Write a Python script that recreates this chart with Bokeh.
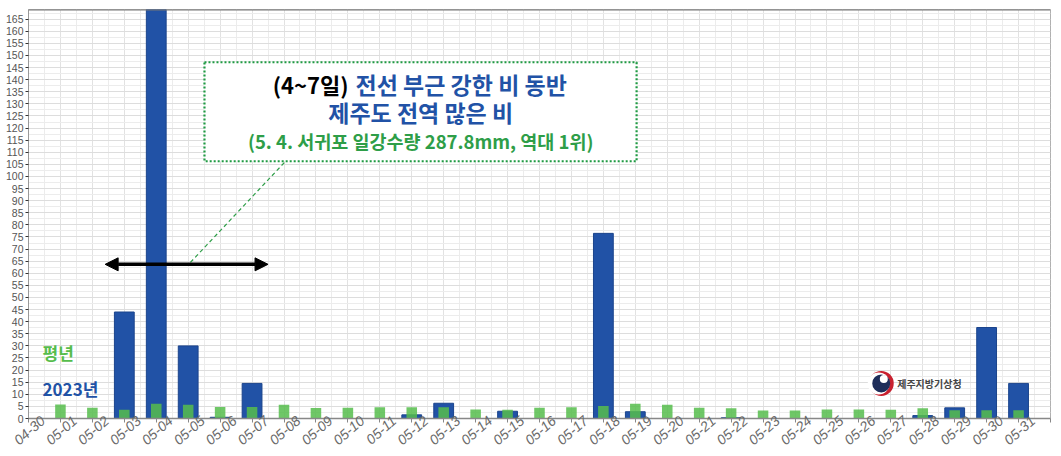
from bokeh.plotting import figure
from bokeh.models import Range1d, FixedTicker, Label, Arrow, NormalHead, BoxAnnotation, Span
from bokeh.embed import file_html
from bokeh.resources import INLINE

# ---------------- data ----------------
dates = ["04-30", "05-01", "05-02", "05-03", "05-04", "05-05", "05-06", "05-07",
         "05-08", "05-09", "05-10", "05-11", "05-12", "05-13", "05-14", "05-15",
         "05-16", "05-17", "05-18", "05-19", "05-20", "05-21", "05-22", "05-23",
         "05-24", "05-25", "05-26", "05-27", "05-28", "05-29", "05-30", "05-31", "06-01"]
bar_dates = dates[1:32]
rain_2023 = [0, 0, 44, 190, 30, 0.5, 14.5, 0, 0, 0, 0, 1.5, 6.3, 0, 3, 0, 0, 76.5,
             2.8, 0, 0, 0.3, 0, 0, 0, 0, 0, 1.2, 4.4, 37.6, 14.5]
rain_normal = [5.8, 4.4, 3.6, 6.1, 5.7, 4.8, 4.8, 5.7, 4.3, 4.4, 4.7, 4.7, 4.7, 3.7,
               3.6, 4.4, 4.7, 5.2, 6.1, 5.7, 4.4, 4.2, 3.3, 3.3, 3.7, 3.7, 3.6, 4.2,
               3.4, 3.4, 3.4]
y_ticks = list(range(0, 170, 5))
series_labels = ["평년", "2023년"]

KR = "Noto Sans CJK KR"
BLUE = "#2152a6"
GREEN = "#56bd4c"
DGREEN = "#2e9e48"

xpos = [dates.index(d) for d in bar_dates]
day_pos = list(range(len(dates)))
x_end = len(dates) - 1

p = figure(width=1061, height=452, output_backend="svg", toolbar_location=None,
           x_range=Range1d(0, x_end), y_range=Range1d(0, 169),
           min_border_left=28, min_border_right=11, min_border_top=9, min_border_bottom=30,
           background_fill_color="white", border_fill_color="white")
p.outline_line_color = "#b0b0b0"

# bars
p.vbar(x=xpos, top=rain_2023, width=0.62, fill_color=BLUE, line_color="#1b448c")
p.vbar(x=xpos, top=rain_normal, width=0.33, fill_color=GREEN, fill_alpha=0.85, line_color=None)

# x axis: tick marks on the days (minor ticks); date labels set so they sit under their day
label_pos = [i + 0.45 for i in day_pos]
p.xaxis.ticker = FixedTicker(ticks=label_pos, minor_ticks=day_pos)
p.xaxis.major_label_overrides = {lp: d for lp, d in zip(label_pos, dates)}
p.xaxis.major_label_orientation = 0.72
p.xaxis.major_label_text_font = "Liberation Sans"
p.xaxis.major_label_text_font_style = "italic"
p.xaxis.major_label_text_font_size = "14px"
p.xaxis.major_label_text_color = "#6a6a6a"
p.xaxis.major_label_standoff = -4
p.xaxis.major_tick_line_color = None
p.xaxis.major_tick_out = 0
p.xaxis.major_tick_in = 0
p.xaxis.minor_tick_out = 4
p.xaxis.minor_tick_in = 0
p.xaxis.minor_tick_line_color = "#888888"
p.xaxis.axis_line_color = "#888888"
p.xaxis.axis_line_width = 1.5

p.xgrid.ticker = FixedTicker(ticks=day_pos, minor_ticks=[i + 0.5 for i in day_pos[:-1]])
p.xgrid.grid_line_color = "#e2e2e2"
p.xgrid.minor_grid_line_color = "#ececec"

yt = FixedTicker(ticks=y_ticks, minor_ticks=[v + 2.5 for v in y_ticks])
p.yaxis.ticker = yt
p.ygrid.ticker = yt
p.yaxis.major_label_text_font = "Liberation Sans"
p.yaxis.major_label_text_font_size = "10.5px"
p.yaxis.major_label_text_color = "#555555"
p.yaxis.major_label_standoff = 1
p.yaxis.major_tick_out = 3
p.yaxis.major_tick_in = 0
p.yaxis.minor_tick_line_color = None
p.yaxis.axis_line_color = "#999999"
p.yaxis.major_tick_line_color = "#333333"
p.ygrid.grid_line_color = "#dddddd"
p.ygrid.minor_grid_line_color = "#ececec"

p.add_layout(Span(location=169, dimension="width", line_color="#777777", line_width=2))

# legend-like labels
p.add_layout(Label(x=0.44, y=27.3, text=series_labels[0], text_font=KR, text_font_style="bold",
                   text_font_size="17px", text_color=GREEN, text_baseline="middle"))
p.add_layout(Label(x=0.44, y=12.4, text=series_labels[1], text_font=KR, text_font_style="bold",
                   text_font_size="17px", text_color=BLUE, text_baseline="middle"))

# connector and arrow
p.add_layout(Arrow(end=None, start=None, x_start=5.07, y_start=64.5, x_end=8.05, y_end=106.3,
                   line_color=DGREEN, line_dash="4 3", line_width=1.2))
p.add_layout(Arrow(start=NormalHead(size=13, fill_color="black", line_color="black"),
                   end=NormalHead(size=13, fill_color="black", line_color="black"),
                   x_start=2.4, x_end=7.5, y_start=63.7, y_end=63.7,
                   line_color="black", line_width=3.5))

# annotation box
p.add_layout(BoxAnnotation(left=5.51, right=19.04, bottom=106.3, top=147.2,
                           fill_color="white", fill_alpha=1.0, line_color="#1f9a43",
                           line_alpha=1.0, line_dash="2 2", line_width=2.2, level="annotation"))
p.add_layout(Label(x=10.02, y=138.1, text="(4~7일)", text_font=KR, text_font_style="bold",
                   text_font_size="22px", text_color="black", text_align="right",
                   text_baseline="middle"))
p.add_layout(Label(x=10.24, y=138.1, text="전선 부근 강한 비 동반", text_font=KR, text_font_style="bold",
                   text_font_size="23px", text_color=BLUE, text_align="left",
                   text_baseline="middle"))
p.add_layout(Label(x=12.28, y=126.6, text="제주도 전역 많은 비", text_font=KR, text_font_style="bold",
                   text_font_size="23px", text_color=BLUE, text_align="center",
                   text_baseline="middle"))
p.add_layout(Label(x=12.28, y=114.6, text="(5. 4. 서귀포 일강수량 287.8mm, 역대 1위)", text_font=KR,
                   text_font_style="bold", text_font_size="18.5px", text_color=DGREEN,
                   text_align="center", text_baseline="middle"))

# logo
p.scatter(x=[26.7], y=[14.5], size=25, fill_color="#c8202f", line_color=None)
p.scatter(x=[26.62], y=[14.5], size=22, fill_color="white", line_color=None)
p.scatter(x=[26.7], y=[14.5], size=18, fill_color="#1e2d5a", line_color=None)
p.scatter(x=[26.78], y=[16.3], size=8, fill_color="white", line_color=None)
p.add_layout(Label(x=27.2, y=14.5, text="제주지방기상청", text_font=KR, text_font_style="bold",
                   text_font_size="10px", text_color="#444444", text_baseline="middle"))

open("out.html", "w").write(file_html(p, INLINE))
